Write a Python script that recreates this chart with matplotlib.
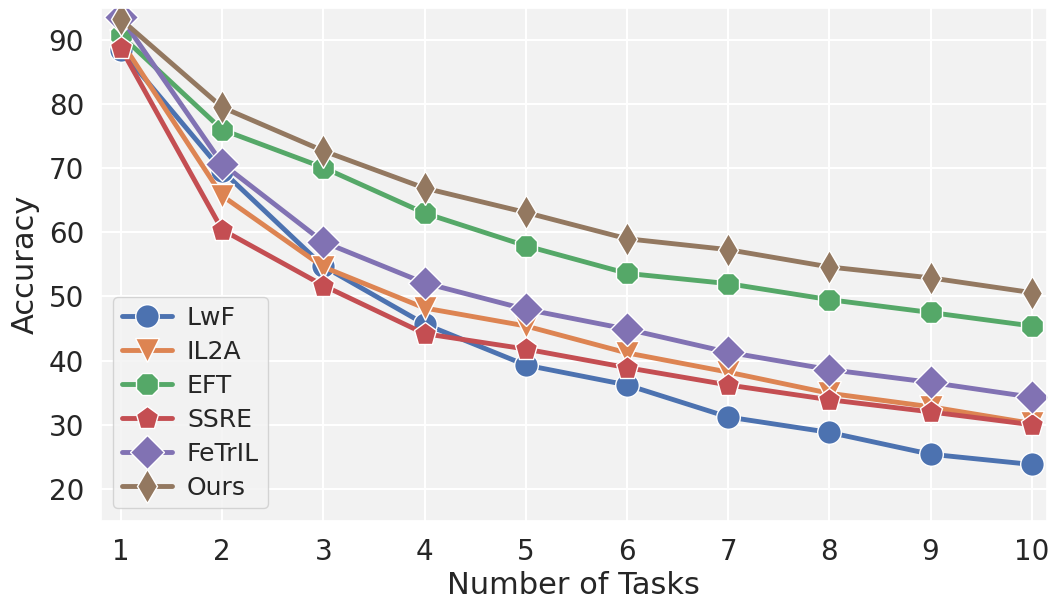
import numpy as np
import matplotlib
matplotlib.use("Agg")
import matplotlib.pyplot as plt
import seaborn as sns

tasks = [1, 2, 3, 4, 5, 6, 7, 8, 9, 10]
lwf = [88.4, 69.6, 54.7, 45.7, 39.3, 36.2, 31.2, 28.8, 25.4, 23.8]
il2a = [89.8, 65.7, 54.6, 48.2, 45.4, 41.2, 38.2, 34.9, 32.8, 30.2]
eft = [90.7, 76.0, 70.1, 63.0, 57.9, 53.6, 52.0, 49.5, 47.5, 45.4]
ssre = [88.7, 60.4, 51.7, 44.2, 41.8, 38.9, 36.2, 33.9, 32.0, 30.0]
fetril = [93.5, 70.7, 58.5, 52.1, 48.0, 44.9, 41.3, 38.6, 36.6, 34.3]
ours = [93.2, 79.5, 72.7, 66.9, 63.1, 59.0, 57.3, 54.6, 52.9, 50.6]

names = ["LwF", "IL2A", "EFT", "SSRE", "FeTrIL", "Ours"]
series = [lwf, il2a, eft, ssre, fetril, ours]
markers = ["o", "v", "8", "p", "D", "d"]

sns.set_theme(style="darkgrid", palette="deep")
plt.rcParams['axes.facecolor'] = '#f2f2f2'

fig, ax = plt.subplots(figsize=(10.49, 6.05), dpi=100)
colors = sns.color_palette("deep")
for i, (name, vals) in enumerate(zip(names, series)):
    ax.plot(tasks, vals, marker=markers[i], color=colors[i], label=name,
            linewidth=3.5, markersize=17, markeredgecolor='white',
            markeredgewidth=1.0)

ax.set_xlim(0.8, 10.15)
ax.set_ylim(15, 95)
ax.set_xticks(tasks)
ax.set_yticks([20, 30, 40, 50, 60, 70, 80, 90])
ax.tick_params(labelsize=20, pad=6)
ax.set_xlabel("Number of Tasks", fontsize=22, labelpad=4)
ax.set_ylabel("Accuracy", fontsize=22, labelpad=6)
ax.grid(True, color='white', linewidth=1.5)
ax.legend(loc='lower left', fontsize=18, handlelength=2.0, handletextpad=0.6,
          bbox_to_anchor=(0.0, 0.0), borderaxespad=0.5, labelspacing=0.4,
          borderpad=0.35)

fig.subplots_adjust(left=0.096, right=0.998, top=0.987, bottom=0.139)
fig.savefig("out.png", dpi=100)
